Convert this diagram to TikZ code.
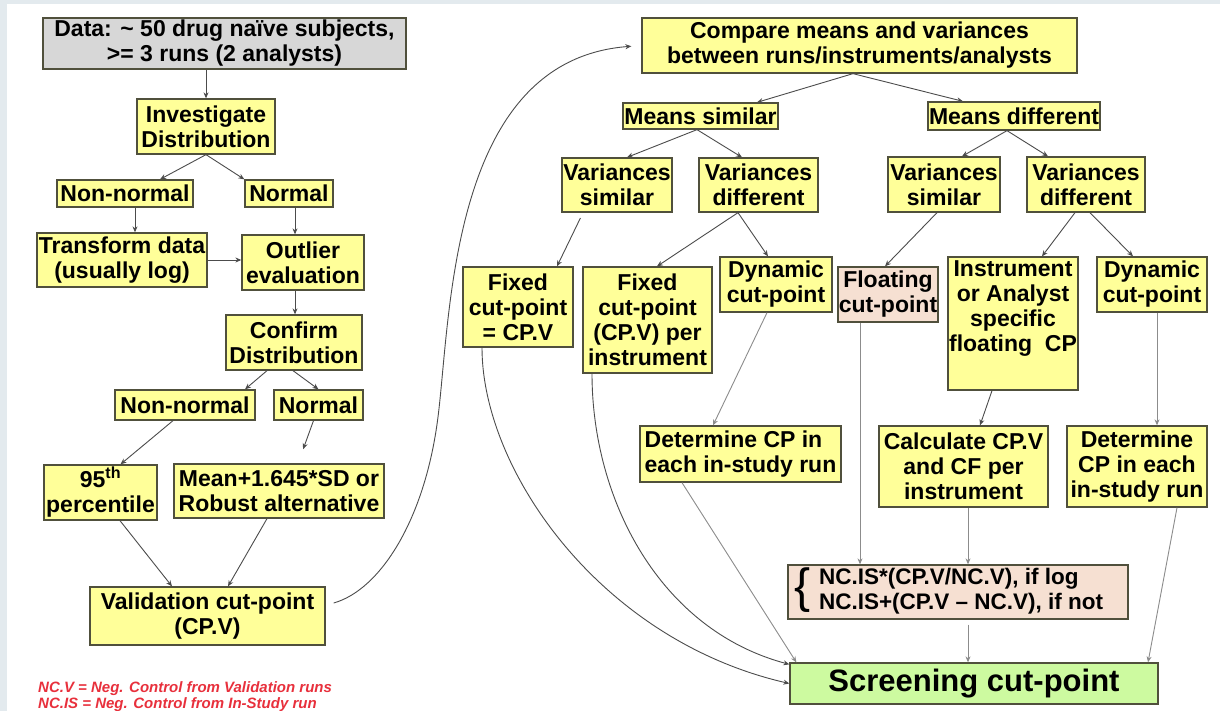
\documentclass[tikz,border=0pt]{standalone}
\usepackage{fontspec}
\setmainfont{Liberation Sans}
\usetikzlibrary{arrows.meta,calc}
\definecolor{boxyellow}{RGB}{255,255,153}
\definecolor{boxgrey}{RGB}{215,215,215}
\definecolor{boxpeach}{RGB}{246,224,210}
\definecolor{boxgreen}{RGB}{205,250,160}
\definecolor{bgstrip}{RGB}{227,234,238}
\definecolor{legendred}{RGB}{232,48,60}
\definecolor{edgecol}{RGB}{80,80,60}
\newcommand\bx[7]{\node[#1, minimum width={(#5-#3)*1pt}, minimum height={(#6-#4)*1pt}] (#2) at ({(#3+#5)/2},{(#4+#6)/2}) {#7};}
\begin{document}
\begin{tikzpicture}[x=1pt,y=-1pt,
  box/.style={draw=edgecol, line width=1.3pt, inner sep=0pt, align=center, text=black,
              font=\bfseries\fontsize{23}{25}\selectfont},
  yb/.style={box, fill=boxyellow},
  gb/.style={box, fill=boxgrey},
  pb/.style={box, fill=boxpeach},
  grb/.style={box, fill=boxgreen, font=\bfseries\fontsize{31}{33}\selectfont},
  arr/.style={draw=black!70, line width=0.9pt, -{Stealth[length=6pt,width=5pt]}},
  arrl/.style={arr, draw=black!45}]
\path[use as bounding box, clip] (0,0) rectangle (1220,711);
\fill[white] (0,0) rectangle (1220,711);
\fill[bgstrip] (0,0) rectangle (1220,4);
\fill[bgstrip] (0,0) rectangle (7,711);

% ---------- left column ----------
\bx{gb}{data}{43}{18}{406}{69}{Data: \textasciitilde\ 50 drug naïve subjects,\\>= 3 runs (2 analysts)}
\bx{yb}{inv}{137}{99}{275}{154}{Investigate\\Distribution}
\bx{yb}{nn1}{57}{180}{193}{207}{Non-normal}
\bx{yb}{nm1}{245}{180}{333}{207}{Normal}
\bx{yb}{tr}{37}{233}{207}{287}{Transform data\\(usually log)}
\bx{yb}{out}{242}{235}{364}{290}{Outlier\\evaluation}
\bx{yb}{conf}{226}{315}{362}{370}{Confirm\\Distribution}
\bx{yb}{nn2}{115}{390}{255}{420}{Non-normal}
\bx{yb}{nm2}{274}{390}{363}{420}{Normal}
\bx{yb}{p95}{44}{465}{157}{520}{95\textsuperscript{th}\\percentile}
\bx{yb}{mean}{174}{464}{384}{518}{Mean+1.645*SD or\\Robust alternative}
\bx{yb}{val}{90}{587}{325}{645}{Validation cut-point\\(CP.V)}

\node[anchor=west, align=left, inner sep=0pt, text=legendred,
      font=\bfseries\itshape\fontsize{15}{16}\selectfont] (legend) at (38,697)
  {NC.V = Neg. Control from Validation runs\\NC.IS = Neg. Control from In-Study run};

% ---------- right part ----------
\bx{yb}{cmp}{642}{18}{1077}{73}{Compare means and variances\\between runs/instruments/analysts}
\bx{yb}{msim}{623}{103}{778}{129}{Means similar}
\bx{yb}{mdif}{928}{102}{1100}{130}{Means different}
\bx{yb}{vs1}{562}{158}{672}{212}{Variances\\similar}
\bx{yb}{vd1}{699}{158}{818}{212}{Variances\\different}
\bx{yb}{vs2}{888}{157}{1000}{212}{Variances\\similar}
\bx{yb}{vd2}{1027}{157}{1145}{212}{Variances\\different}
\bx{yb}{fix1}{463}{267}{573}{347}{Fixed\\cut-point\\= CP.V}
\bx{yb}{fix2}{583}{267}{712}{373}{Fixed\\cut-point\\(CP.V) per\\instrument}
\bx{yb}{dyn1}{720}{257}{832}{312}{Dynamic\\cut-point}
\bx{pb}{flo}{838}{267}{938}{322}{Floating\\cut-point}
\bx{yb}{ins}{948}{257}{1078}{390}{}
\node[align=center, inner sep=0pt, anchor=north, font=\bfseries\fontsize{23}{25}\selectfont]
  (insT) at ([yshift=-4pt]ins.north) {Instrument\\or Analyst\\specific\\floating~~CP};
\bx{yb}{dyn2}{1097}{257}{1207}{312}{Dynamic\\cut-point}
\bx{yb,align=left}{det1}{640}{426}{841}{482}{Determine CP in\\each in-study run}
\bx{yb}{calc}{879}{426}{1048}{507}{Calculate CP.V\\and CF per\\instrument}
\bx{yb}{det2}{1067}{426}{1207}{507}{Determine\\CP in each\\in-study run}
\bx{pb,font=\bfseries\fontsize{22.5}{25}\selectfont}{nc}{788}{565}{1128}{619}{\raisebox{-5pt}{\fontsize{48}{48}\mdseries\selectfont\{}\hspace{8pt}\begin{tabular}{@{}l@{}}NC.IS*(CP.V/NC.V), if log\\NC.IS+(CP.V -- NC.V), if not\end{tabular}\hspace{18pt}}
\bx{grb}{scr}{790}{663}{1158}{704}{Screening cut-point}

% ---------- connectors, left ----------
\draw[arr] (inv.north |- data.south) -- (inv.north);
\draw[arr] (inv.south) -- ([xshift=35pt]nn1.north);
\draw[arr] (inv.south) -- (nm1.north west);
\draw[arr] ([xshift=10pt]nn1.south) -- ([xshift=13pt]tr.north);
\draw[arr] ([xshift=6pt]nm1.south) -- ([xshift=-8pt]out.north);
\draw[arr] (tr.east) -- (tr.east -| out.west);
\draw[arr] ([xshift=-8pt]out.south) -- ([xshift=1pt]conf.north);
\draw[arr] ([xshift=-27pt]conf.south) -- ([xshift=60pt]nn2.north);
\draw[arr] ([xshift=-1pt]conf.south) -- (nm2.north);
\draw[arr] ([xshift=-12pt]nn2.south) -- ([xshift=20pt]p95.north);
\draw[arr, shorten >=15pt] ([xshift=-5pt]nm2.south) -- ([xshift=19pt]mean.north);
\draw[arr] ([xshift=19.5pt]p95.south) -- ([xshift=-35.5pt]val.north);
\draw[arr] ([xshift=-12pt]mean.south) -- ([xshift=20.5pt]val.north);

% ---------- big curve ----------
\coordinate (vbend) at (438,417);
\draw[arr, shorten >=10pt] ([xshift=8pt,yshift=13pt]val.east)
  .. controls (380,590) and (425,520) .. (vbend)
  .. controls (451,314) and (450,60) .. (cmp.west);

% ---------- connectors, right ----------
\draw[arr] ([xshift=-6.5pt]cmp.south) -- ([xshift=56.5pt]msim.north);
\draw[arr] ([xshift=-6.5pt]cmp.south) -- ([xshift=-51pt]mdif.north);
\draw[arr] ([xshift=-3.5pt]msim.south) -- ([xshift=10pt]vs1.north);
\draw[arr] ([xshift=-3.5pt]msim.south) -- ([xshift=-16.5pt]vd1.north);
\draw[arr] ([xshift=-7pt]mdif.south) -- ([xshift=18pt]vs2.north);
\draw[arr] ([xshift=-7pt]mdif.south) -- ([xshift=-38pt]vd2.north);
\draw[arr, shorten <=6pt] ([xshift=-34pt]vs1.south) -- ([xshift=39pt]fix1.north);
\draw[arr] ([xshift=-20.5pt]vd1.south) -- ([xshift=9.5pt]fix2.north);
\draw[arr] ([xshift=-20.5pt]vd1.south) -- ([xshift=-8pt]dyn1.north);
\draw[arr] ([xshift=-7pt]vs2.south) -- ([xshift=-3pt]flo.north);
\draw[arr] ([xshift=-11pt]vd2.south) -- ([xshift=29pt]ins.north);
\draw[arr] ([xshift=4pt]vd2.south) -- ([xshift=-19pt]dyn2.north);
\draw[arrl] ([xshift=-9pt]dyn1.south) -- ([xshift=-27.5pt]det1.north);
\draw[arr] ([xshift=-21pt]ins.south) -- ([xshift=16.5pt]calc.north);
\draw[arrl] ([xshift=5pt]dyn2.south) -- ([xshift=20pt]det2.north);
\draw[arrl] ([xshift=-28pt]flo.south) -- ([xshift=-98pt]nc.north);
\draw[arrl] ([xshift=4.5pt]calc.south) -- ([xshift=10pt]nc.north);
\draw[arrl, shorten <=5pt] ([xshift=10pt]nc.south) -- ([xshift=-6pt]scr.north);
\draw[arrl] ([xshift=40pt]det2.south) -- ([xshift=174pt]scr.north);
\draw[arrl] ([xshift=-58.5pt]det1.south) -- ([xshift=7pt]scr.north west);
\draw[arr] ([xshift=-55.5pt]fix2.south) .. controls (592,500) and (660,630) .. ([yshift=-2pt]scr.north west);
\draw[arr] ([xshift=-36pt]fix1.south) .. controls (482,470) and (600,640) .. (scr.west);
\end{tikzpicture}
\end{document}
